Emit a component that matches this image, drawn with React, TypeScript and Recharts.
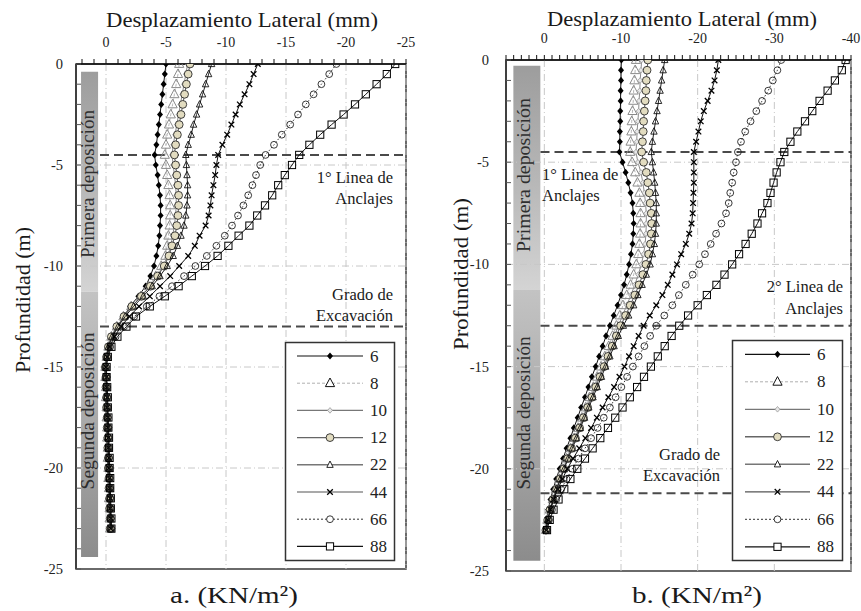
import { ScatterChart, Scatter, XAxis, YAxis, ReferenceLine, ReferenceArea } from "recharts";

const FONT = "'Liberation Serif', 'Times New Roman', serif";
const H = 611;

// profundidad (m), un punto cada 0.5 m
const DEPTH = [
  0, -0.5, -1, -1.5, -2, -2.5, -3, -3.5, -4, -4.5, -5, -5.5, -6, -6.5, -7, -7.5, -8, -8.5, -9, -9.5,
  -10, -10.5, -11, -11.5, -12, -12.5, -13, -13.5, -14, -14.5, -15, -15.5, -16, -16.5, -17, -17.5,
  -18, -18.5, -19, -19.5, -20, -20.5, -21, -21.5, -22, -22.5, -23,
];

const SERIES_LABELS = ["6", "8", "10", "12", "22", "44", "66", "88"];

// a. desplazamiento lateral (mm)
const A_6 = [-5.0, -4.9, -4.8, -4.7, -4.6, -4.5, -4.4, -4.3, -4.2, -4.05, -4.15, -4.3, -4.4, -4.5, -4.55, -4.55, -4.5, -4.45, -4.35, -4.2, -4.0, -3.7, -3.3, -2.7, -2.0, -1.5, -1.0, -0.5, -0.2, -0.05, 0.1, 0.1, 0.05, 0.05, 0, 0, -0.05, -0.05, -0.1, -0.1, -0.15, -0.15, -0.2, -0.2, -0.25, -0.3, -0.3];
const A_8 = [-6.1, -6.0, -5.85, -5.7, -5.55, -5.4, -5.25, -5.1, -5.0, -4.9, -5.0, -5.1, -5.2, -5.3, -5.35, -5.35, -5.3, -5.2, -5.1, -4.95, -4.6, -4.15, -3.55, -2.9, -2.1, -1.45, -0.9, -0.45, -0.2, -0.05, 0.05, 0.05, 0, 0, -0.05, -0.05, -0.1, -0.1, -0.15, -0.15, -0.2, -0.2, -0.25, -0.25, -0.3, -0.3, -0.35];
const A_10 = [-6.8, -6.65, -6.5, -6.35, -6.2, -6.05, -5.9, -5.75, -5.6, -5.5, -5.6, -5.7, -5.8, -5.85, -5.85, -5.8, -5.7, -5.55, -5.4, -5.15, -4.75, -4.25, -3.65, -2.95, -2.15, -1.5, -0.9, -0.45, -0.2, -0.05, 0.05, 0, 0, -0.05, -0.05, -0.1, -0.1, -0.15, -0.15, -0.2, -0.2, -0.25, -0.25, -0.3, -0.3, -0.35, -0.35];
const A_12 = [-7.0, -6.85, -6.7, -6.55, -6.4, -6.25, -6.1, -5.95, -5.8, -5.7, -5.8, -5.9, -6.0, -6.05, -6.05, -6.0, -5.9, -5.75, -5.5, -5.25, -4.85, -4.3, -3.7, -2.95, -2.15, -1.5, -0.9, -0.45, -0.2, -0.05, 0.05, 0, 0, -0.05, -0.05, -0.1, -0.1, -0.15, -0.15, -0.2, -0.2, -0.25, -0.25, -0.3, -0.3, -0.35, -0.35];
const A_22 = [-8.8, -8.55, -8.3, -8.05, -7.8, -7.55, -7.3, -7.1, -6.85, -6.65, -6.7, -6.75, -6.8, -6.8, -6.75, -6.65, -6.5, -6.25, -5.95, -5.6, -5.1, -4.5, -3.85, -3.1, -2.3, -1.6, -1.0, -0.5, -0.2, -0.05, 0, 0, -0.05, -0.05, -0.1, -0.1, -0.15, -0.15, -0.2, -0.2, -0.25, -0.25, -0.3, -0.3, -0.35, -0.35, -0.4];
const A_44 = [-12.65, -12.3, -11.95, -11.55, -11.15, -10.8, -10.45, -10.1, -9.7, -9.35, -9.2, -9.1, -8.95, -8.8, -8.7, -8.55, -8.3, -7.8, -7.4, -6.85, -6.1, -5.35, -4.5, -3.65, -2.75, -1.95, -1.25, -0.7, -0.3, -0.1, 0, -0.05, -0.05, -0.1, -0.1, -0.15, -0.15, -0.2, -0.2, -0.25, -0.25, -0.3, -0.3, -0.35, -0.35, -0.4, -0.4];
const A_66 = [-19.2, -18.6, -17.95, -17.3, -16.65, -16.0, -15.35, -14.65, -14.0, -13.3, -12.85, -12.5, -12.2, -11.85, -11.45, -11.0, -10.5, -9.9, -9.2, -8.4, -7.45, -6.5, -5.5, -4.45, -3.4, -2.35, -1.5, -0.8, -0.35, -0.1, 0, -0.05, -0.1, -0.1, -0.15, -0.15, -0.2, -0.2, -0.25, -0.25, -0.3, -0.3, -0.35, -0.35, -0.4, -0.4, -0.45];
const A_88 = [-24.1, -23.4, -22.55, -21.65, -20.75, -19.8, -18.8, -17.85, -16.95, -16.1, -15.5, -14.9, -14.35, -13.85, -13.25, -12.6, -11.95, -11.05, -10.2, -9.3, -8.25, -7.15, -6.05, -4.9, -3.65, -2.5, -1.7, -0.95, -0.45, -0.15, -0.05, -0.05, -0.1, -0.15, -0.15, -0.2, -0.2, -0.25, -0.25, -0.3, -0.3, -0.35, -0.35, -0.4, -0.4, -0.45, -0.45];

// b. desplazamiento lateral (mm)
const B_6 = [-10.05, -10.0, -10.0, -9.95, -9.95, -9.9, -9.9, -9.85, -9.85, -9.8, -10.2, -10.6, -10.95, -11.25, -11.5, -11.6, -11.65, -11.6, -11.5, -11.3, -11.05, -10.75, -10.4, -10.0, -9.55, -9.05, -8.55, -8.05, -7.6, -7.15, -6.7, -6.2, -5.75, -5.3, -4.8, -4.35, -3.85, -3.4, -2.9, -2.45, -2.0, -1.55, -1.15, -0.8, -0.5, -0.3, -0.15];
const B_8 = [-11.95, -11.85, -11.75, -11.65, -11.6, -11.5, -11.4, -11.35, -11.25, -11.2, -11.45, -11.85, -12.15, -12.4, -12.5, -12.55, -12.55, -12.5, -12.4, -12.25, -12.0, -11.65, -11.25, -10.75, -10.25, -9.85, -9.4, -8.9, -8.4, -7.9, -7.4, -6.9, -6.4, -5.9, -5.4, -4.9, -4.4, -3.9, -3.4, -2.9, -2.4, -1.95, -1.5, -1.1, -0.7, -0.4, -0.2];
const B_10 = [-12.7, -12.6, -12.5, -12.45, -12.35, -12.3, -12.2, -12.1, -12.05, -11.95, -12.2, -12.6, -12.85, -13.05, -13.2, -13.3, -13.3, -13.25, -13.15, -12.95, -12.65, -12.25, -11.8, -11.3, -10.75, -10.2, -9.65, -9.15, -8.65, -8.1, -7.6, -7.1, -6.55, -6.05, -5.55, -5.0, -4.5, -4.0, -3.5, -3.0, -2.5, -2.0, -1.55, -1.15, -0.75, -0.45, -0.2];
const B_12 = [-13.5, -13.4, -13.3, -13.25, -13.15, -13.05, -12.95, -12.9, -12.8, -12.7, -12.95, -13.3, -13.5, -13.7, -13.8, -13.95, -14.0, -13.95, -13.85, -13.6, -13.25, -12.85, -12.35, -11.8, -11.2, -10.6, -9.95, -9.4, -8.85, -8.3, -7.8, -7.25, -6.7, -6.2, -5.65, -5.1, -4.6, -4.05, -3.55, -3.05, -2.55, -2.05, -1.6, -1.15, -0.75, -0.45, -0.2];
const B_22 = [-15.7, -15.5, -15.3, -15.1, -14.9, -14.7, -14.5, -14.3, -14.1, -13.95, -14.1, -14.25, -14.4, -14.5, -14.6, -14.6, -14.6, -14.5, -14.35, -14.1, -13.8, -13.3, -12.75, -12.2, -11.65, -11.0, -10.3, -9.65, -9.1, -8.55, -8.0, -7.45, -6.9, -6.35, -5.8, -5.25, -4.7, -4.2, -3.65, -3.1, -2.6, -2.1, -1.6, -1.2, -0.8, -0.45, -0.2];
const B_44 = [-22.7, -22.5, -22.2, -21.8, -21.3, -20.8, -20.4, -20.1, -19.8, -19.5, -19.5, -19.5, -19.5, -19.45, -19.4, -19.35, -19.2, -18.9, -18.45, -17.85, -17.3, -16.7, -16.1, -15.4, -14.6, -13.75, -12.95, -12.3, -11.65, -11.05, -10.45, -9.8, -9.1, -8.35, -7.6, -6.85, -6.1, -5.35, -4.55, -3.75, -3.0, -2.35, -1.75, -1.2, -0.8, -0.45, -0.25];
const B_66 = [-30.9, -30.4, -29.8, -29.2, -28.4, -27.65, -26.9, -26.2, -25.65, -25.25, -25.0, -24.7, -24.5, -24.25, -24.05, -23.7, -23.1, -22.4, -21.7, -20.95, -20.2, -19.35, -18.45, -17.55, -16.7, -15.65, -14.6, -13.8, -13.05, -12.3, -11.55, -10.8, -10.05, -9.3, -8.55, -7.75, -6.95, -6.1, -5.3, -4.45, -3.65, -2.9, -2.2, -1.55, -1.0, -0.6, -0.3];
const B_88 = [-39.3, -38.8, -37.9, -36.95, -35.9, -34.95, -34.0, -33.0, -32.1, -31.3, -30.8, -30.3, -29.9, -29.5, -29.1, -28.4, -27.8, -27.05, -26.25, -25.4, -24.5, -23.5, -22.45, -21.2, -20.0, -18.75, -17.6, -16.6, -15.7, -14.8, -13.9, -13.0, -12.1, -11.15, -10.2, -9.25, -8.3, -7.3, -6.3, -5.3, -4.3, -3.4, -2.6, -1.85, -1.2, -0.7, -0.35];

const X_TICKS_A = [0, -5, -10, -15, -20, -25];
const X_TICKS_B = [0, -10, -20, -30, -40];
const Y_TICKS = [0, -5, -10, -15, -20, -25];

// lineas de anclaje / grado de excavacion (m)
const DASH_A = [-4.5, -13];
const DASH_B = [-4.5, -13, -21.2];

const range = (from: number, to: number) =>
  Array.from({ length: from - to + 1 }, (_, i) => from - i);

type LineStyle = { stroke: string; strokeWidth: number; strokeDasharray?: string };
type SeriesStyle = { marker: string; line: LineStyle; legendLine: LineStyle };

const STYLES: SeriesStyle[] = [
  { marker: "diamond", line: { stroke: "#111", strokeWidth: 1 }, legendLine: { stroke: "#111", strokeWidth: 1.2 } },
  { marker: "triangle", line: { stroke: "#a0a0a0", strokeWidth: 0.8, strokeDasharray: "3 2" }, legendLine: { stroke: "#b0b0b0", strokeWidth: 1, strokeDasharray: "3 2" } },
  { marker: "diamondSmall", line: { stroke: "#8c8c8c", strokeWidth: 1 }, legendLine: { stroke: "#777", strokeWidth: 1.2 } },
  { marker: "circleFill", line: { stroke: "#555", strokeWidth: 1 }, legendLine: { stroke: "#666", strokeWidth: 1.4 } },
  { marker: "triangleSmall", line: { stroke: "#222", strokeWidth: 1 }, legendLine: { stroke: "#777", strokeWidth: 1.6 } },
  { marker: "cross", line: { stroke: "#111", strokeWidth: 1 }, legendLine: { stroke: "#555", strokeWidth: 1.2 } },
  { marker: "circleOpen", line: { stroke: "#333", strokeWidth: 1, strokeDasharray: "1.5 2" }, legendLine: { stroke: "#333", strokeWidth: 1, strokeDasharray: "2 2" } },
  { marker: "square", line: { stroke: "#111", strokeWidth: 1 }, legendLine: { stroke: "#111", strokeWidth: 1.2 } },
];

function Marker({ kind, cx, cy, legend = false }: { kind: string; cx: number; cy: number; legend?: boolean }) {
  if (cx == null || cy == null) return null;
  const open = legend ? "#fff" : "none";
  switch (kind) {
    case "diamond":
      return <polygon points={`${cx},${cy - 3.6} ${cx + 3},${cy} ${cx},${cy + 3.6} ${cx - 3},${cy}`} fill="#000" />;
    case "triangle":
      return (
        <polygon
          points={`${cx},${cy - 5.2} ${cx + 4.6},${cy + 3.4} ${cx - 4.6},${cy + 3.4}`}
          fill={open}
          stroke={legend ? "#111" : "#8a8a8a"}
          strokeWidth={1}
        />
      );
    case "diamondSmall":
      return <polygon points={`${cx},${cy - 2.8} ${cx + 2.4},${cy} ${cx},${cy + 2.8} ${cx - 2.4},${cy}`} fill="#e8e8e8" stroke="#9a9a9a" strokeWidth={0.8} />;
    case "circleFill":
      return <circle cx={cx} cy={cy} r={3.9} fill="#e2dcc0" stroke="#2b2b2b" strokeWidth={0.9} />;
    case "triangleSmall":
      return <polygon points={`${cx},${cy - 3.8} ${cx + 3.2},${cy + 2.6} ${cx - 3.2},${cy + 2.6}`} fill={open} stroke="#111" strokeWidth={0.9} />;
    case "cross":
      return (
        <path
          d={`M${cx - 2.8},${cy - 2.8}L${cx + 2.8},${cy + 2.8}M${cx - 2.8},${cy + 2.8}L${cx + 2.8},${cy - 2.8}`}
          stroke="#000"
          strokeWidth={1.3}
        />
      );
    case "circleOpen":
      return <circle cx={cx} cy={cy} r={3.4} fill={open} stroke="#222" strokeWidth={0.9} />;
    default:
      return <rect x={cx - 3.6} y={cy - 3.6} width={7.2} height={7.2} fill={open} stroke="#000" strokeWidth={1} />;
  }
}

type PanelCfg = {
  id: string;
  left: number;
  width: number;
  axisTop: number;
  bottom: number;
  right: number;
  yTickMargin: number;
  xDomain: [number, number];
  xMinor: number[];
  xMajor: number[];
  series: number[][];
  dashes: number[];
  dashFrom: number;
  bar: { x1: number; x2: number; top: number; split: number; bottom: number };
};

const PANELS: PanelCfg[] = [
  {
    id: "a",
    left: 0,
    width: 430,
    axisTop: 64,
    bottom: 42,
    right: 24,
    yTickMargin: 13,
    xDomain: [-25, 2.5],
    xMinor: range(2, -25),
    xMajor: X_TICKS_A,
    series: [A_6, A_8, A_10, A_12, A_22, A_44, A_66, A_88],
    dashes: DASH_A,
    dashFrom: 0.5,
    bar: { x1: 0.66, x2: 2.08, top: -0.38, split: -11.27, bottom: -24.4 },
  },
  {
    id: "b",
    left: 430,
    width: 431,
    axisTop: 60,
    bottom: 40,
    right: 10,
    yTickMargin: 17,
    xDomain: [-40, 5],
    xMinor: range(5, -40),
    xMajor: X_TICKS_B,
    series: [B_6, B_8, B_10, B_12, B_22, B_44, B_66, B_88],
    dashes: DASH_B,
    dashFrom: 0.5,
    bar: { x1: 0.52, x2: 4.04, top: -0.28, split: -11.25, bottom: -24.5 },
  },
];

function Panel({ p }: { p: PanelCfg }) {
  const xTick = (props: any) => {
    const v = props.payload?.value;
    if (!p.xMajor.includes(v)) return <g />;
    return (
      <text x={props.x} y={props.y} textAnchor="middle" fontSize={14} fill="#222" fontFamily={FONT}>
        {v}
      </text>
    );
  };
  const yTick = (props: any) => {
    const v = props.payload?.value;
    const ax = props.x + p.yTickMargin;
    return (
      <g>
        <line x1={ax} x2={ax + 5} y1={props.y} y2={props.y} stroke="#555" strokeWidth={1} />
        {Y_TICKS.includes(v) && (
          <text x={props.x} y={props.y} dy="0.35em" textAnchor="end" fontSize={14.5} fill="#222" fontFamily={FONT}>
            {v}
          </text>
        )}
      </g>
    );
  };

  return (
    <div style={{ position: "absolute", left: p.left, top: 0 }}>
      <ScatterChart
        width={p.width}
        height={H}
        margin={{ top: 0, right: p.right, bottom: p.bottom, left: 0 }}
      >
        <defs>
          <linearGradient id={`top-${p.id}`} x1="0" y1="0" x2="0" y2="1">
            <stop offset="0%" stopColor="#9d9d9d" />
            <stop offset="55%" stopColor="#b9b9b9" />
            <stop offset="100%" stopColor="#d4d4d4" />
          </linearGradient>
          <linearGradient id={`bot-${p.id}`} x1="0" y1="0" x2="0" y2="1">
            <stop offset="0%" stopColor="#c3c3c3" />
            <stop offset="50%" stopColor="#a9a9a9" />
            <stop offset="100%" stopColor="#8c8c8c" />
          </linearGradient>
        </defs>
        <XAxis
          type="number"
          dataKey="x"
          orientation="top"
          domain={p.xDomain}
          reversed
          allowDataOverflow
          ticks={p.xMinor}
          interval={0}
          height={p.axisTop}
          tickSize={5}
          tickMargin={12}
          tickLine={{ stroke: "#111" }}
          axisLine={{ stroke: "#111", strokeWidth: 1.5 }}
          tick={xTick}
        />
        <YAxis
          type="number"
          dataKey="y"
          domain={[-25, 0]}
          allowDataOverflow
          ticks={range(0, -25)}
          interval={0}
          width={76}
          tickSize={0}
          tickLine={false}
          tickMargin={p.yTickMargin}
          axisLine={{ stroke: "#333", strokeWidth: 1.5 }}
          tick={yTick}
        />

        {p.xMajor.map((v) => (
          <ReferenceLine key={`gx${v}`} x={v} stroke="#c8c8c8" strokeWidth={1} strokeDasharray="7 3 1 3" />
        ))}
        {Y_TICKS.slice(1, -1).map((v) => (
          <ReferenceLine key={`gy${v}`} y={v} stroke="#c8c8c8" strokeWidth={1} strokeDasharray="7 3 1 3" />
        ))}

        <ReferenceArea x1={p.bar.x1} x2={p.bar.x2} y1={p.bar.split} y2={p.bar.top} fill={`url(#top-${p.id})`} fillOpacity={1} stroke="none" />
        <ReferenceArea x1={p.bar.x1} x2={p.bar.x2} y1={p.bar.bottom} y2={p.bar.split} fill={`url(#bot-${p.id})`} fillOpacity={1} stroke="none" />

        {p.dashes.map((d) => (
          <ReferenceLine
            key={`d${d}`}
            segment={[{ x: p.dashFrom, y: d }, { x: p.xDomain[0], y: d }]}
            stroke="#4a4a4a"
            strokeWidth={2}
            strokeDasharray="9 5"
          />
        ))}

        <ReferenceArea x1={p.xDomain[0]} x2={p.xDomain[1]} y1={-25} y2={0} fill="none" fillOpacity={0} stroke="#3a3a3a" strokeWidth={1.5} />

        {p.series.map((vals, i) => {
          const s = STYLES[i];
          const data = DEPTH.map((d, k) => ({ x: vals[k], y: d }));
          return (
            <Scatter
              key={SERIES_LABELS[i]}
              name={SERIES_LABELS[i]}
              data={data}
              isAnimationActive={false}
              line={s.line}
              lineType="joint"
              shape={(sp: any) => <Marker kind={s.marker} cx={sp.cx} cy={sp.cy} />}
            />
          );
        })}
      </ScatterChart>
    </div>
  );
}

type LegendBox = { x: number; y: number; w: number; h: number; row0: number; step: number; x1: number; x2: number; mx: number; tx: number };

function LegendBlock({ L }: { L: LegendBox }) {
  return (
    <g>
      <rect x={L.x} y={L.y} width={L.w} height={L.h} fill="#fff" stroke="#333" strokeWidth={1.5} />
      {STYLES.map((s, i) => {
        const y = L.row0 + i * L.step;
        return (
          <g key={SERIES_LABELS[i]}>
            <line x1={L.x1} x2={L.x2} y1={y} y2={y} {...s.legendLine} />
            <Marker kind={s.marker} cx={L.mx} cy={y} legend />
            <text x={L.tx} y={y + 5.5} fontSize={17} fill="#222" fontFamily={FONT}>
              {SERIES_LABELS[i]}
            </text>
          </g>
        );
      })}
    </g>
  );
}

const LEGEND_A: LegendBox = { x: 285.5, y: 342.5, w: 109, h: 218, row0: 356, step: 27.2, x1: 297, x2: 363, mx: 330, tx: 370 };
const LEGEND_B: LegendBox = { x: 732.5, y: 340.5, w: 110, h: 220, row0: 354.3, step: 27.5, x1: 745, x2: 810, mx: 777.5, tx: 817 };

function Overlay() {
  const t = { fontFamily: FONT, fill: "#1a1a1a" };
  const bar = { fontFamily: FONT, fill: "#2f2f2f", fontSize: 18, textAnchor: "middle" as const, lengthAdjust: "spacingAndGlyphs" as const };
  return (
    <svg width={861} height={611} style={{ position: "absolute", left: 0, top: 0, pointerEvents: "none" }}>
      {/* titulos de eje */}
      <text {...t} x={242} y={27} fontSize={21} textAnchor="middle" textLength={272} lengthAdjust="spacingAndGlyphs">
        Desplazamiento Lateral (mm)
      </text>
      <text {...t} x={682} y={26} fontSize={21} textAnchor="middle" textLength={270} lengthAdjust="spacingAndGlyphs">
        Desplazamiento Lateral (mm)
      </text>
      <text {...t} transform="translate(30,300) rotate(-90)" fontSize={21} textAnchor="middle" textLength={146} lengthAdjust="spacingAndGlyphs">
        Profundidad (m)
      </text>
      <text {...t} transform="translate(468,274) rotate(-90)" fontSize={21} textAnchor="middle" textLength={152} lengthAdjust="spacingAndGlyphs">
        Profundidad (m)
      </text>

      {/* depositos */}
      <text {...bar} transform="translate(94,184) rotate(-90)" textLength={148}>Primera deposición</text>
      <text {...bar} transform="translate(94,411) rotate(-90)" textLength={157}>Segunda deposición</text>
      <text {...bar} transform="translate(530,175) rotate(-90)" textLength={154}>Primera deposición</text>
      <text {...bar} transform="translate(530,413) rotate(-90)" textLength={153}>Segunda deposición</text>

      {/* anotaciones */}
      <g {...t} fontSize={16.5}>
        <text x={393} y={183} textAnchor="end">1° Linea de</text>
        <text x={393} y={204} textAnchor="end">Anclajes</text>
        <text x={393} y={300} textAnchor="end">Grado de</text>
        <text x={393} y={321} textAnchor="end">Excavación</text>

        <text x={542} y={180}>1° Linea de</text>
        <text x={542} y={201}>Anclajes</text>
        <text x={843} y={292} textAnchor="end">2° Linea de</text>
        <text x={843} y={314} textAnchor="end">Anclajes</text>
        <text x={720} y={460} textAnchor="end">Grado de</text>
        <text x={720} y={481} textAnchor="end">Excavación</text>
      </g>

      <LegendBlock L={LEGEND_A} />
      <LegendBlock L={LEGEND_B} />

      {/* pies */}
      <text {...t} x={234} y={603} fontSize={24} textAnchor="middle" textLength={128} lengthAdjust="spacingAndGlyphs">
        a. (KN/m²)
      </text>
      <text {...t} x={697} y={603} fontSize={24} textAnchor="middle" textLength={130} lengthAdjust="spacingAndGlyphs">
        b. (KN/m²)
      </text>
    </svg>
  );
}

export default function App() {
  return (
    <div
      style={{
        position: "absolute",
        left: 0,
        top: 0,
        width: 861,
        height: 611,
        background: "#fff",
        overflow: "hidden",
        fontFamily: FONT,
      }}
    >
      {PANELS.map((p) => (
        <Panel key={p.id} p={p} />
      ))}
      <Overlay />
    </div>
  );
}
